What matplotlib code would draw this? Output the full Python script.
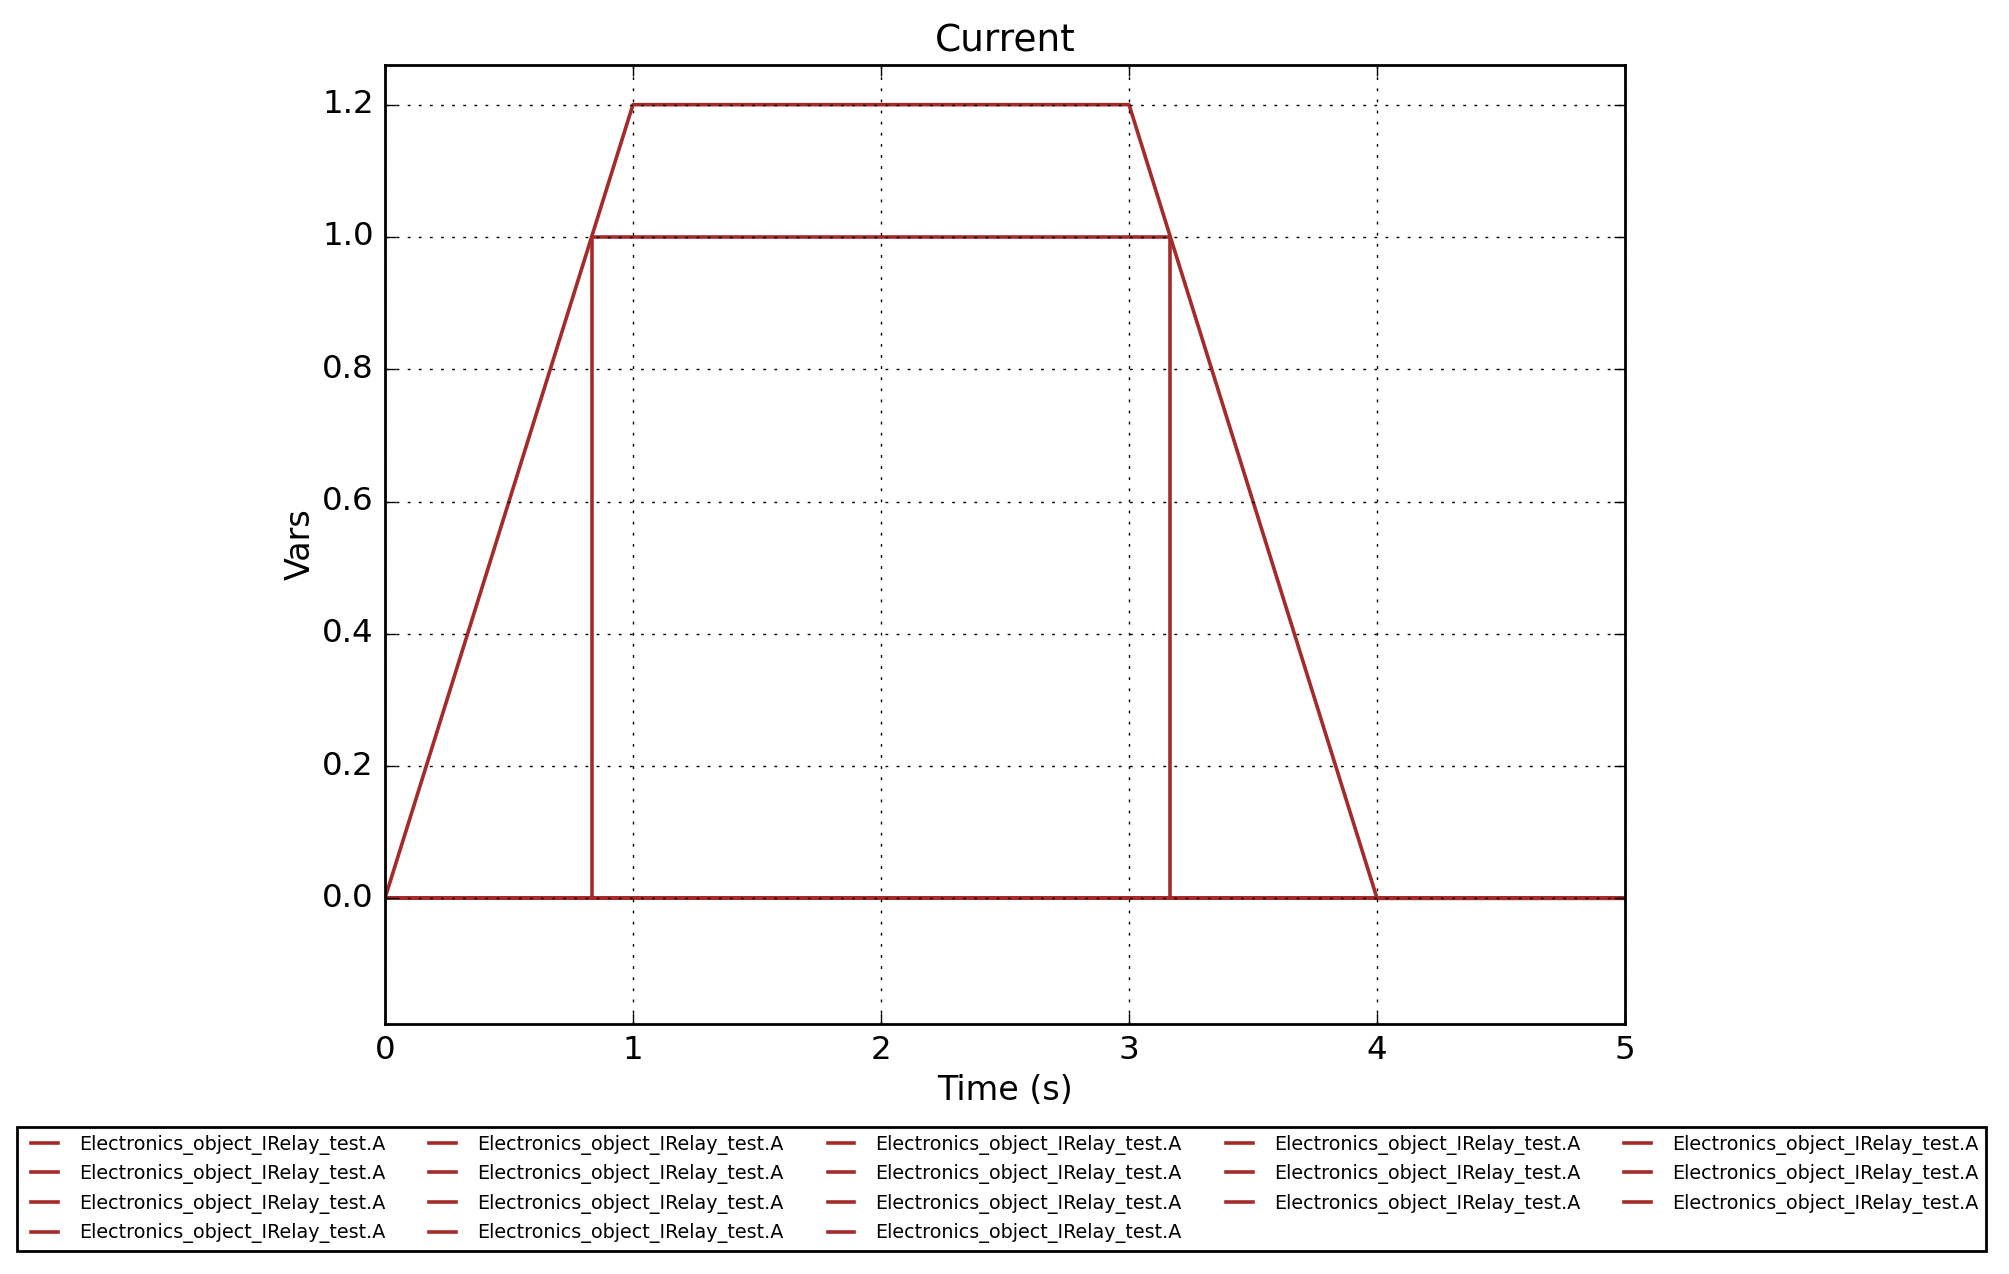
import matplotlib
matplotlib.use("Agg")
import matplotlib.pyplot as plt

# signal profiles
current_t = [0.0, 1.0, 3.0, 4.0, 5.0]
current_v = [0.0, 1.2, 1.2, 0.0, 0.0]
relay_t = [0.0, 0.8333, 0.8333, 3.1667, 3.1667, 5.0]
relay_v = [0.0, 0.0, 1.0, 1.0, 0.0, 0.0]
zero_t = [0.0, 5.0]
zero_v = [0.0, 0.0]

# which profile each of the 18 legend entries uses
series_kind = ["current", "relay"] + ["zero"] * 16
series_label = "Electronics_object_IRelay_test.A"

xticks = [0, 1, 2, 3, 4, 5]
yticks = [0.0, 0.2, 0.4, 0.6, 0.8, 1.0, 1.2]

plt.style.use("classic")
profiles = {"current": (current_t, current_v),
            "relay": (relay_t, relay_v),
            "zero": (zero_t, zero_v)}

fig = plt.figure(figsize=(10.045, 6.37), dpi=200, facecolor="white")
ax = fig.add_axes([0.1916, 0.1962, 0.6173, 0.7528])
for kind in series_kind:
    t, v = profiles[kind]
    ax.plot(t, v, color="brown", lw=1.3, label=series_label)

ax.set_xlim(0, 5)
ax.set_ylim(-0.19, 1.26)
ax.set_xticks(xticks)
ax.set_yticks(yticks)
ax.set_xticklabels([str(x) for x in xticks])
ax.set_yticklabels([f"{y:.1f}" for y in yticks])
ax.tick_params(labelsize=11.7)
ax.grid(True)
ax.set_title("Current", fontsize=13.5)
ax.set_xlabel("Time (s)", fontsize=12, labelpad=2.7)
ax.set_ylabel("Vars", fontsize=12, labelpad=1.8)

ax.legend(loc="upper center", bbox_to_anchor=(0.4987, 0.123),
          bbox_transform=fig.transFigure, ncol=5, fontsize=6.9)

fig.savefig("out.png", dpi=200, facecolor="white")
